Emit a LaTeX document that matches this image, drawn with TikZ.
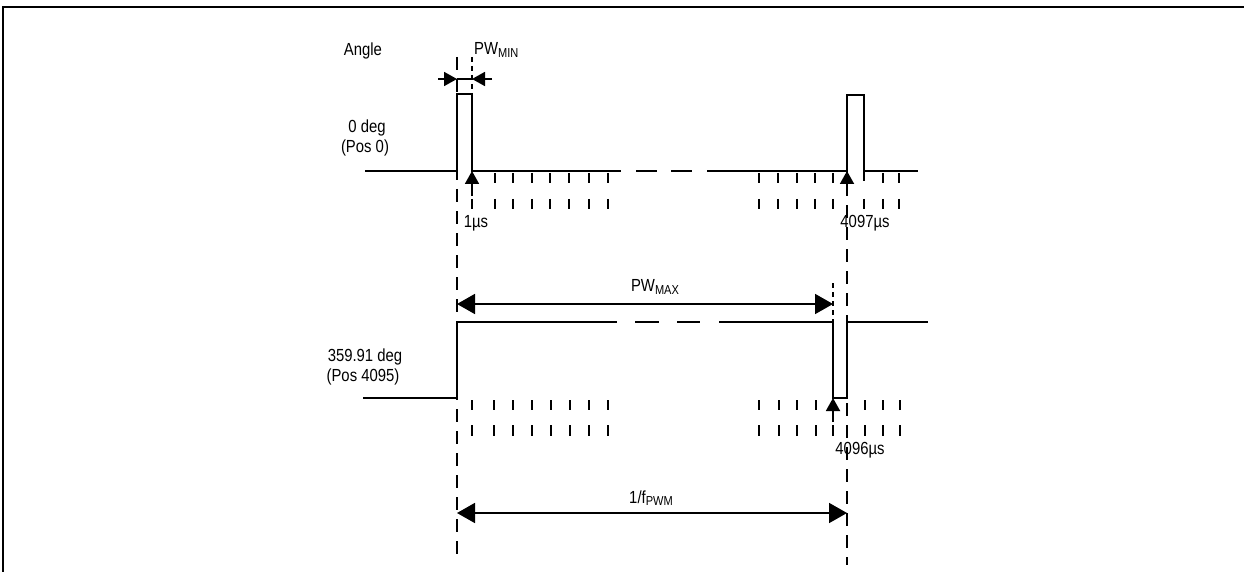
\documentclass[tikz,border=0pt]{standalone}
\usepackage{fontspec}
\setmainfont{Liberation Sans}[FakeStretch=0.85]
\usetikzlibrary{arrows.meta}

\tikzset{
  wave/.style={line width=1.8pt},
  tickmark/.style={line width=1.8pt},
  guide/.style={line width=1.8pt, dash pattern=on 13pt off 9pt},
  fineguide/.style={line width=1.6pt, dash pattern=on 5pt off 4pt},
  smalltip/.style={line width=1.8pt, -{Triangle[length=13pt, width=14pt]}},
  bigtip/.style={line width=1.8pt, {Triangle[length=18pt, width=20pt]}-{Triangle[length=18pt, width=20pt]}},
  lbl/.style={font=\fontsize{17.5}{20}\selectfont, inner sep=0pt}
}
\newcommand{\sublbl}[1]{\raisebox{-0.25ex}{\fontsize{13}{15}\selectfont #1}}

\begin{document}
\begin{tikzpicture}[x=1pt, y=-1pt]
    \useasboundingbox (0,0) rectangle (1244,572);

    % Frame
    \draw[line width=2pt] (3,572) -- (3,7) -- (1244,7);

    % Guide lines
    \draw[guide] (457,57) -- (457,556);
    \draw[guide] (847,95) -- (847,565);
    \draw[fineguide] (472,57) -- (472,94);
    \draw[fineguide] (833,283) -- (833,322);

    % Upper waveform: 0 deg
    \draw[wave] (365,171) -- (457,171) -- (457,94) -- (472,94) -- (472,171) -- (621,171);
    \draw[wave] (636,171) -- (657,171);
    \draw[wave] (671,171) -- (692,171);
    \draw[wave] (707,171) -- (847,171) -- (847,95) -- (864,95) -- (864,181);
    \draw[wave] (864,171) -- (918,171);
    \foreach \x in {495,513,532,550,569,589,608,759,778,797,815,833,883,899}
        \draw[tickmark] (\x,173) -- (\x,183);
    \foreach \x in {472,495,513,532,550,569,589,608,759,778,797,815,833,864,883,899}
        \draw[tickmark] (\x,199) -- (\x,209);

    % Lower waveform: 359.91 deg
    \draw[wave] (363,398) -- (457,398) -- (457,322) -- (617,322);
    \draw[wave] (635,322) -- (659,322);
    \draw[wave] (677,322) -- (700,322);
    \draw[wave] (719,322) -- (833,322) -- (833,398) -- (847,398) -- (847,322) -- (928,322);
    \foreach \x in {472,494,513,532,551,570,589,608,759,779,797,816,865,883,900}
        \draw[tickmark] (\x,400) -- (\x,410);
    \foreach \x in {472,494,513,532,551,570,589,608,759,779,797,816,833,865,883,900}
        \draw[tickmark] (\x,425) -- (\x,436);

    % Edge markers
    \coordinate (up1) at (472,171);
    \coordinate (up1s) at (472,196);
    \coordinate (up2) at (847,171);
    \coordinate (up2s) at (847,190);
    \coordinate (lo1) at (833,398);
    \coordinate (lo1s) at (833,422);
    \draw[smalltip] (up1s) -- (up1);
    \draw[smalltip] (up2s) -- (up2);
    \draw[smalltip] (lo1s) -- (lo1);

    % PW_MIN
    \coordinate (minL) at (457,79);
    \coordinate (minR) at (472,79);
    \coordinate (minLt) at (438,79);
    \coordinate (minRt) at (492,79);
    \draw[smalltip] (minLt) -- (minL);
    \draw[wave] (minL) -- (minR);
    \draw[smalltip] (minRt) -- (minR);

    % PW_MAX and period
    \coordinate (maxL) at (457,304);
    \coordinate (maxR) at (833,304);
    \coordinate (perL) at (457,513);
    \coordinate (perR) at (847,513);
    \draw[bigtip] (maxL) -- (maxR);
    \draw[bigtip] (perL) -- (perR);

    % Labels
    \node[lbl] (angle) at (363,51) {Angle};
    \node[lbl, anchor=west] (pwmin) at (474,50) {PW\sublbl{MIN}};
    \node[lbl] (deg0) at (367,128) {0 deg};
    \node[lbl] (pos0) at (365,148) {(Pos 0)};
    \node[lbl] (t1) at (476,223) {1µs};
    \node[lbl] (t4097) at (865,223) {4097µs};
    \node[lbl] (pwmax) at (655,287) {PW\sublbl{MAX}};
    \node[lbl] (deg359) at (365,357) {359.91 deg};
    \node[lbl] (pos4095) at (363,377) {(Pos 4095)};
    \node[lbl] (t4096) at (860,450) {4096µs};
    \node[lbl] (fpwm) at (651,498) {1/f\sublbl{PWM}};
\end{tikzpicture}
\end{document}
